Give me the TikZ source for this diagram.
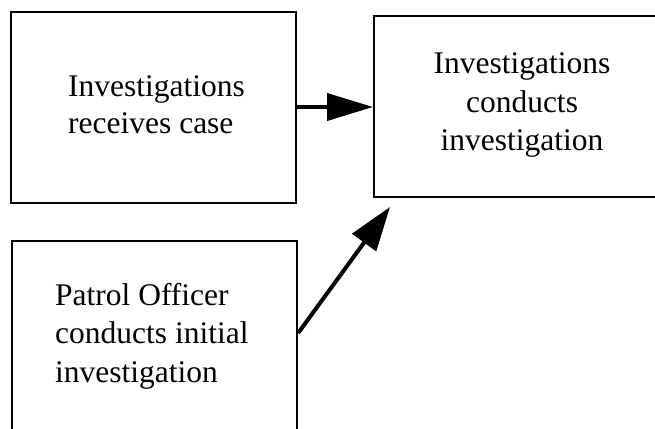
\documentclass[tikz,border=0pt]{standalone}
\usepackage{fontspec}
\setmainfont{Liberation Serif}
\usetikzlibrary{arrows.meta,calc}
\begin{document}
\begin{tikzpicture}[x=1pt,y=-1pt,
  box/.style={draw=black,line width=2.2pt,rectangle,inner sep=0pt,anchor=north west},
  lbl/.style={inner sep=0pt,font=\fontsize{31.5}{38}\selectfont},
  conn/.style={line width=4pt,-{Triangle[length=46pt,width=27pt]}},
  conntwo/.style={line width=4pt,-{Triangle[length=44pt,width=29pt]}}]
\useasboundingbox (0,0) rectangle (655,428);
\clip (0,0) rectangle (655,428);
\fill[white] (0,0) rectangle (655,428);
% boxes
\node[box,minimum width=285pt,minimum height=191pt] (b1) at (10,11) {};
\node[box,minimum width=298pt,minimum height=181pt] (b2) at (373,15) {};
\node[box,minimum width=285pt,minimum height=200pt] (b3) at (11,240) {};
% texts
\node[lbl,anchor=base west] (t1a) at (68,96) {Investigations};
\node[lbl,anchor=base west] (t1b) at (68,133) {receives case};
\node[lbl,anchor=base] (t2a) at (522,74) {Investigations};
\node[lbl,anchor=base] (t2b) at (522,112) {conducts};
\node[lbl,anchor=base] (t2c) at (522,150) {investigation};
\node[lbl,anchor=base west] (t3a) at (55,305) {Patrol Officer};
\node[lbl,anchor=base west] (t3b) at (55,343) {conducts initial};
\node[lbl,anchor=base west] (t3c) at (55,382) {investigation};
% connectors
\coordinate (s1) at ($(b1.north east)+(0,96)$);
\draw[conn] (s1) -- (s1 -| b2.west);
\coordinate (s2) at ($(b3.north east)+(0,93)$);
\coordinate (e2) at (390,207);
\draw[conntwo] (s2) -- (e2);
\end{tikzpicture}
\end{document}
